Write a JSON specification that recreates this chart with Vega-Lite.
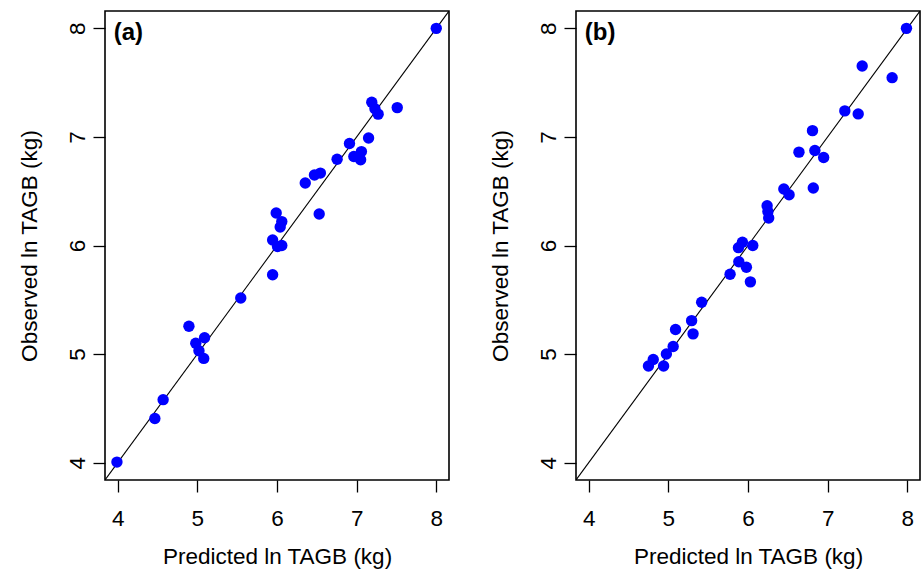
{
  "$schema": "https://vega.github.io/schema/vega-lite/v6.json",
  "background": "white",
  "padding": {"left": 17, "top": 10, "right": 1, "bottom": 1},
  "spacing": 38,
  "config": {
    "view": {"stroke": "black", "strokeWidth": 1.6},
    "font": "Liberation Sans",
    "axis": {
      "grid": false,
      "domain": false,
      "tickColor": "black",
      "tickWidth": 1.3,
      "tickSize": 12,
      "labelColor": "black",
      "titleColor": "black",
      "labelFontSize": 22.5,
      "titleFontSize": 22.5,
      "titleFontWeight": "normal",
      "labelFont": "Liberation Sans",
      "titleFont": "Liberation Sans"
    }
  },
  "datasets": {
    "pts": [
      {"panel": "a", "pred": 8.0, "obs": 8.0},
      {"panel": "a", "pred": 7.19, "obs": 7.32},
      {"panel": "a", "pred": 7.23, "obs": 7.26},
      {"panel": "a", "pred": 7.27, "obs": 7.21},
      {"panel": "a", "pred": 7.51, "obs": 7.27},
      {"panel": "a", "pred": 7.15, "obs": 6.99},
      {"panel": "a", "pred": 6.91, "obs": 6.94},
      {"panel": "a", "pred": 7.06, "obs": 6.865},
      {"panel": "a", "pred": 6.965, "obs": 6.82},
      {"panel": "a", "pred": 7.05, "obs": 6.79},
      {"panel": "a", "pred": 6.755, "obs": 6.795},
      {"panel": "a", "pred": 6.545, "obs": 6.667},
      {"panel": "a", "pred": 6.47, "obs": 6.65},
      {"panel": "a", "pred": 6.355, "obs": 6.575},
      {"panel": "a", "pred": 5.99, "obs": 6.3},
      {"panel": "a", "pred": 6.53, "obs": 6.29},
      {"panel": "a", "pred": 6.06, "obs": 6.22},
      {"panel": "a", "pred": 6.04, "obs": 6.17},
      {"panel": "a", "pred": 5.945, "obs": 6.05},
      {"panel": "a", "pred": 6.007, "obs": 5.99},
      {"panel": "a", "pred": 6.06, "obs": 6.0},
      {"panel": "a", "pred": 5.945, "obs": 5.73},
      {"panel": "a", "pred": 5.545, "obs": 5.517},
      {"panel": "a", "pred": 4.894, "obs": 5.256},
      {"panel": "a", "pred": 5.09, "obs": 5.15},
      {"panel": "a", "pred": 4.98, "obs": 5.1},
      {"panel": "a", "pred": 5.02, "obs": 5.03},
      {"panel": "a", "pred": 5.08, "obs": 4.96},
      {"panel": "a", "pred": 4.57, "obs": 4.58},
      {"panel": "a", "pred": 4.466, "obs": 4.407},
      {"panel": "a", "pred": 3.99, "obs": 4.005},
      {"panel": "b", "pred": 7.99, "obs": 8.0},
      {"panel": "b", "pred": 7.434, "obs": 7.653},
      {"panel": "b", "pred": 7.81, "obs": 7.546},
      {"panel": "b", "pred": 7.216, "obs": 7.24},
      {"panel": "b", "pred": 7.384, "obs": 7.212},
      {"panel": "b", "pred": 6.81, "obs": 7.058},
      {"panel": "b", "pred": 6.64, "obs": 6.86},
      {"panel": "b", "pred": 6.84, "obs": 6.875},
      {"panel": "b", "pred": 6.95, "obs": 6.81},
      {"panel": "b", "pred": 6.82, "obs": 6.53},
      {"panel": "b", "pred": 6.45, "obs": 6.52},
      {"panel": "b", "pred": 6.516, "obs": 6.467},
      {"panel": "b", "pred": 6.24, "obs": 6.366},
      {"panel": "b", "pred": 6.25, "obs": 6.314},
      {"panel": "b", "pred": 6.26, "obs": 6.253},
      {"panel": "b", "pred": 5.93, "obs": 6.03},
      {"panel": "b", "pred": 6.06, "obs": 6.0},
      {"panel": "b", "pred": 5.88, "obs": 5.98},
      {"panel": "b", "pred": 5.885, "obs": 5.85},
      {"panel": "b", "pred": 5.98, "obs": 5.8},
      {"panel": "b", "pred": 5.775, "obs": 5.735},
      {"panel": "b", "pred": 6.03, "obs": 5.665},
      {"panel": "b", "pred": 5.418, "obs": 5.477},
      {"panel": "b", "pred": 5.292, "obs": 5.308},
      {"panel": "b", "pred": 5.09, "obs": 5.226},
      {"panel": "b", "pred": 5.31, "obs": 5.186},
      {"panel": "b", "pred": 5.06, "obs": 5.07},
      {"panel": "b", "pred": 4.975, "obs": 5.0},
      {"panel": "b", "pred": 4.81, "obs": 4.95},
      {"panel": "b", "pred": 4.75, "obs": 4.89},
      {"panel": "b", "pred": 4.94, "obs": 4.89}
    ],
    "diag": [
      {"pred": 3.0, "obs": 3.0},
      {"pred": 9.0, "obs": 9.0}
    ],
    "labels": [
      {"panel": "a", "text": "(a)", "pred": 3.95, "obs": 7.96},
      {"panel": "b", "text": "(b)", "pred": 3.95, "obs": 7.96}
    ]
  },
  "hconcat": [
    {
      "width": 344,
      "height": 469,
      "layer": [
        {
          "data": {"name": "diag"},
          "mark": {"type": "line", "color": "black", "strokeWidth": 1.1, "clip": true},
          "encoding": {
            "x": {"field": "pred", "type": "quantitative"},
            "y": {"field": "obs", "type": "quantitative"}
          }
        },
        {
          "data": {"name": "pts"},
          "transform": [{"filter": "datum.panel === 'a'"}],
          "mark": {"type": "circle", "color": "#0000ff", "opacity": 1, "size": 130},
          "encoding": {
            "x": {"field": "pred", "type": "quantitative"},
            "y": {"field": "obs", "type": "quantitative"}
          }
        },
        {
          "data": {"name": "labels"},
          "transform": [{"filter": "datum.panel === 'a'"}],
          "mark": {"type": "text", "align": "left", "baseline": "middle", "fontSize": 24, "fontWeight": "bold", "color": "black"},
          "encoding": {
            "x": {"field": "pred", "type": "quantitative"},
            "y": {"field": "obs", "type": "quantitative"},
            "text": {"field": "text"}
          }
        }
      ],
      "encoding": {
        "x": {"field": "pred", "type": "quantitative", "scale": {"domain": [3.84, 8.16], "nice": false, "zero": false},
              "axis": {"values": [4, 5, 6, 7, 8], "title": "Predicted ln TAGB (kg)", "labelPadding": 15, "titlePadding": 16}},
        "y": {"field": "obs", "type": "quantitative", "scale": {"domain": [3.84, 8.16], "nice": false, "zero": false},
              "axis": {"values": [4, 5, 6, 7, 8], "title": "Observed ln TAGB (kg)", "labelAngle": -90, "labelPadding": 4, "titlePadding": 25}}
      }
    },
    {
      "width": 344,
      "height": 469,
      "layer": [
        {
          "data": {"name": "diag"},
          "mark": {"type": "line", "color": "black", "strokeWidth": 1.1, "clip": true},
          "encoding": {
            "x": {"field": "pred", "type": "quantitative"},
            "y": {"field": "obs", "type": "quantitative"}
          }
        },
        {
          "data": {"name": "pts"},
          "transform": [{"filter": "datum.panel === 'b'"}],
          "mark": {"type": "circle", "color": "#0000ff", "opacity": 1, "size": 130},
          "encoding": {
            "x": {"field": "pred", "type": "quantitative"},
            "y": {"field": "obs", "type": "quantitative"}
          }
        },
        {
          "data": {"name": "labels"},
          "transform": [{"filter": "datum.panel === 'b'"}],
          "mark": {"type": "text", "align": "left", "baseline": "middle", "fontSize": 24, "fontWeight": "bold", "color": "black"},
          "encoding": {
            "x": {"field": "pred", "type": "quantitative"},
            "y": {"field": "obs", "type": "quantitative"},
            "text": {"field": "text"}
          }
        }
      ],
      "encoding": {
        "x": {"field": "pred", "type": "quantitative", "scale": {"domain": [3.84, 8.16], "nice": false, "zero": false},
              "axis": {"values": [4, 5, 6, 7, 8], "title": "Predicted ln TAGB (kg)", "labelPadding": 15, "titlePadding": 16}},
        "y": {"field": "obs", "type": "quantitative", "scale": {"domain": [3.84, 8.16], "nice": false, "zero": false},
              "axis": {"values": [4, 5, 6, 7, 8], "title": "Observed ln TAGB (kg)", "labelAngle": -90, "labelPadding": 4, "titlePadding": 25}}
      }
    }
  ]
}
